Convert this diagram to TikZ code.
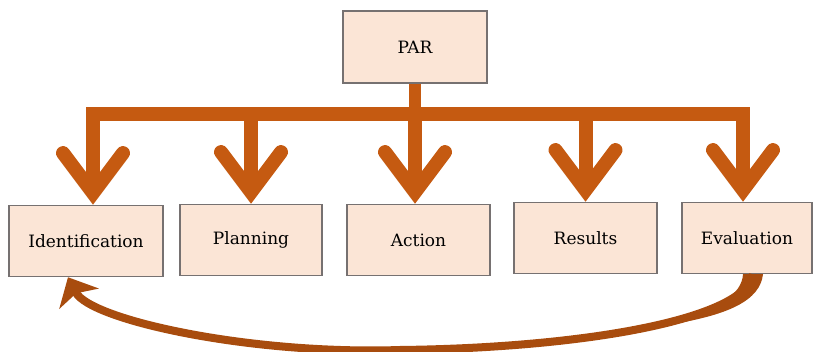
\documentclass[tikz,border=0pt]{standalone}
\usepackage{fontspec}
\setmainfont{DejaVu Serif}
\usetikzlibrary{arrows.meta}
\definecolor{boxfill}{HTML}{FBE5D6}
\definecolor{boxline}{HTML}{767171}
\definecolor{rust}{HTML}{C55A11}
\definecolor{darkrust}{HTML}{A84C0E}

\begin{document}
\begin{tikzpicture}[x=1pt,y=-1pt,line join=miter,
    box/.style={draw=boxline,line width=1.5pt,fill=boxfill,minimum height=71pt,
      inner sep=0pt,font=\fontsize{17}{20}\selectfont},
    branch/.style={draw=rust,line width=14pt,
      -{Straight Barb[length=40pt,width=60pt,line cap=round,line join=miter]}},
    feed/.style={draw=darkrust,line width=8pt,-{Stealth[length=24pt,width=44pt,inset=6pt]}}]
        \useasboundingbox (0,0) rectangle (814,352);
        \clip (0,0) rectangle (814,352);
        \node[box,minimum width=144pt,minimum height=72pt] (par) at (415,47) {PAR};
        \node[box,minimum width=154pt] (ident) at (86,241) {Identification};
        \node[box,minimum width=142pt] (plan) at (251,240) {Planning};
        \node[box,minimum width=143pt] (act) at (418.5,240) {Action};
        \node[box,minimum width=143pt] (res) at (585.5,238) {Results};
        \node[box,minimum width=130pt] (eval) at (747,238) {Evaluation};
        \coordinate (hub) at (415,114.5);
        % trunk and bar
        \draw[rust,line width=12pt] (par.south) -- (hub);
        \draw[branch] (hub) -| ([xshift=7pt]ident.north);
        \draw[branch] (hub) -| ([xshift=-4pt]eval.north);
        \draw[branch] (hub -| plan.north) -- (plan.north);
        \draw[branch] (hub) -- (hub |- act.north);
        \draw[branch] (hub -| res.north) -- (res.north);
        % back to the start
        \draw[feed] ([xshift=6pt]eval.south) .. controls +(-8,46) and (580,348) .. (400,350)
            .. controls (250,355) and (90,320) .. ([xshift=-18pt]ident.south);
        \fill[darkrust] ([xshift=-4pt]eval.south) -- ([xshift=16pt]eval.south)
            .. controls (760,300) and (730,316) .. (660,326)
            .. controls (718,312) and (742,294) .. cycle;
\end{tikzpicture}
\end{document}
